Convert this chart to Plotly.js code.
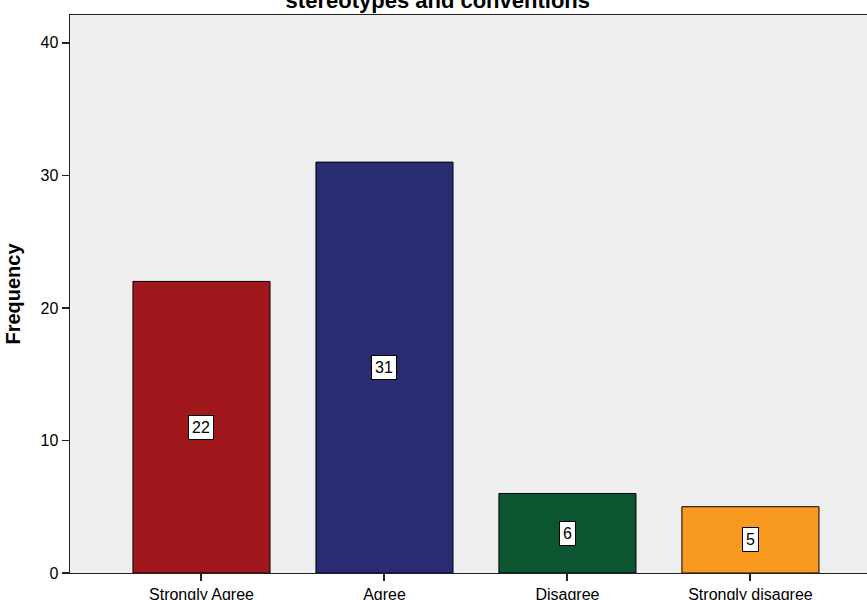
<!DOCTYPE html>
<html>
<head>
<meta charset="utf-8">
<script src="https://cdn.plot.ly/plotly-3.0.1.min.js"></script>
<style>html,body{margin:0;padding:0;background:#fff;}#chart{width:867px;height:600px;}</style>
</head>
<body>
<div id="chart"></div>
<script>
const categories = ["Strongly Agree", "Agree", "Disagree", "Strongly disagree"];
const frequencies = [22, 31, 6, 5];
const barColors = ["#A1181C", "#292B73", "#0B5530", "#F99A20"];
const yTicks = [0, 10, 20, 30, 40];

const trace = {
  type: "bar",
  x: categories,
  y: frequencies,
  width: 0.749,
  marker: {color: barColors, line: {color: "#000", width: 1}},
  hoverinfo: "none"
};

const annotations = categories.map((c, i) => ({
  x: c, y: frequencies[i] / 2, xref: "x", yref: "y",
  text: String(frequencies[i]), showarrow: false,
  bgcolor: "#fff", bordercolor: "#000", borderwidth: 1, borderpad: 3,
  font: {family: "Liberation Sans, Arial, sans-serif", size: 16, color: "#000"}
}));

const layout = {
  width: 867, height: 600,
  margin: {l: 70, r: 0, t: 15, b: 27},
  paper_bgcolor: "#fff",
  plot_bgcolor: "#EFEFEF",
  showlegend: false,
  title: {
    text: "stereotypes and conventions",
    font: {family: "Liberation Sans, Arial, sans-serif", size: 22, color: "#000", weight: "bold"},
    xref: "container", x: 0.505, xanchor: "center",
    yref: "container", y: 1.0, yanchor: "middle"
  },
  xaxis: {
    type: "category",
    range: [-0.7186, 3.637],
    showline: true, linecolor: "#222", linewidth: 1, mirror: true,
    ticks: "outside", ticklen: 7, tickcolor: "#222", tickwidth: 2,
    showgrid: false, zeroline: false,
    tickfont: {family: "Liberation Sans, Arial, sans-serif", size: 16, color: "#000"}
  },
  yaxis: {
    range: [0, 42.1],
    tickvals: yTicks,
    showline: true, linecolor: "#222", linewidth: 1.5,
    ticks: "outside", ticklen: 7, tickcolor: "#222", tickwidth: 1.5,
    showgrid: false, zeroline: false,
    tickfont: {family: "Liberation Sans, Arial, sans-serif", size: 16, color: "#000"},
    title: {text: "Frequency", standoff: 14,
      font: {family: "Liberation Sans, Arial, sans-serif", size: 20, color: "#000", weight: "bold"}}
  },
  annotations: annotations
};

Plotly.newPlot("chart", [trace], layout, {displayModeBar: false, staticPlot: true});
</script>
</body>
</html>
